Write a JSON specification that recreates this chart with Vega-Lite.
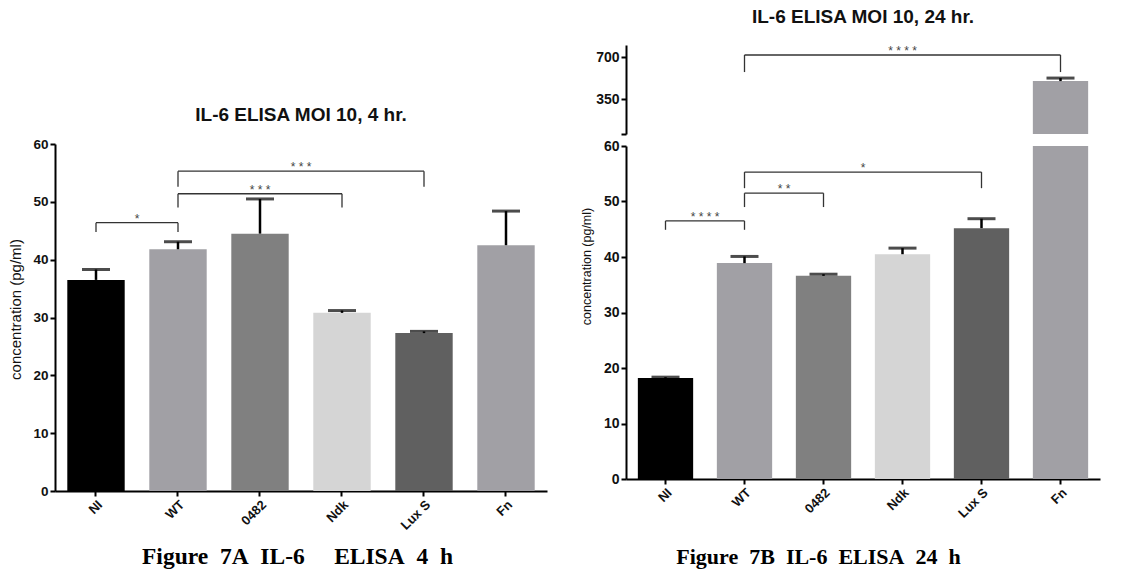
{
  "$schema": "https://vega.github.io/schema/vega-lite/v6.json",
  "background": "white",
  "padding": {"left": 8, "top": 7, "right": 5, "bottom": 5},
  "config": {
    "font": "Liberation Sans",
    "view": {"stroke": null},
    "axis": {"grid": false, "domainColor": "#000", "domainWidth": 2, "tickColor": "#000", "tickWidth": 2, "tickSize": 5, "labelFont": "Liberation Sans", "labelFontWeight": "bold", "labelFontSize": 13.5, "labelColor": "#111", "titleFont": "Liberation Sans", "titleFontWeight": "normal", "titleFontSize": 15, "titleColor": "#111", "labelPadding": 2},
    "title": {"font": "Liberation Sans", "fontWeight": "bold", "fontSize": 19, "color": "#111"}
  },
  "datasets": {
    "cats": [
      {"group": "NI", "order": 0},
      {"group": "WT", "order": 1},
      {"group": "0482", "order": 2},
      {"group": "Ndk", "order": 3},
      {"group": "Lux S", "order": 4},
      {"group": "Fn", "order": 5}
    ],
    "h4": [
      {"group": "NI", "mean": 36.5, "upper": 38.3},
      {"group": "WT", "mean": 41.8, "upper": 43.1},
      {"group": "0482", "mean": 44.5, "upper": 50.5},
      {"group": "Ndk", "mean": 30.8, "upper": 31.2},
      {"group": "Lux S", "mean": 27.3, "upper": 27.6},
      {"group": "Fn", "mean": 42.5, "upper": 48.4}
    ],
    "h24": [
      {"group": "NI", "mean": 18.2, "upper": 18.35},
      {"group": "WT", "mean": 38.9, "upper": 40.1},
      {"group": "0482", "mean": 36.6, "upper": 36.9},
      {"group": "Ndk", "mean": 40.5, "upper": 41.6},
      {"group": "Lux S", "mean": 45.2, "upper": 46.9},
      {"group": "Fn", "mean": 500, "upper": 525}
    ],
    "s4": [
      {"from": "NI", "to": "WT", "top": 46.4, "leg": 44.8, "label": "*"},
      {"from": "WT", "to": "Ndk", "top": 51.4, "leg": 49.0, "label": "* * *"},
      {"from": "WT", "to": "Lux S", "top": 55.3, "leg": 52.6, "label": "* * *"}
    ],
    "s24lo": [
      {"from": "NI", "to": "WT", "top": 46.5, "leg": 44.9, "label": "* * * *"},
      {"from": "WT", "to": "0482", "top": 51.5, "leg": 49.0, "label": "* *"},
      {"from": "WT", "to": "Lux S", "top": 55.3, "leg": 52.4, "label": "*"}
    ],
    "s24hi": [
      {"from": "WT", "to": "Fn", "top": 717, "leg": 575, "label": "* * * *"}
    ]
  },
  "spacing": 33,
  "hconcat": [
    {
      "spacing": 0,
      "vconcat": [
        {
          "width": 492, "height": 61,
          "data": {"values": [{}]},
          "mark": {"type": "text", "opacity": 0},
          "encoding": {}
        },
        {
          "width": 492, "height": 347,
          "title": {"text": "IL-6 ELISA MOI 10, 4 hr.", "offset": 12},
          "resolve": {"scale": {"x": "independent"}},
          "layer": [
            {
              "data": {"name": "h4"},
              "mark": {"type": "bar"},
              "encoding": {
                "x": {"field": "group", "type": "nominal", "sort": null,
                  "scale": {"domain": ["NI", "WT", "0482", "Ndk", "Lux S", "Fn"], "paddingInner": 0.3, "paddingOuter": 0.15},
                  "axis": {"title": "Figure\u00a0\u00a07A\u00a0\u00a0IL-6\u00a0\u00a0\u00a0\u00a0\u00a0ELISA\u00a0\u00a04\u00a0\u00a0h", "labelAngle": -45, "labelFontSize": 13, "titleFont": "Liberation Serif", "titleFontWeight": "bold", "titleFontSize": 23.5, "titlePadding": 12, "titleColor": "#000", "titleX": 242}},
                "y": {"field": "mean", "type": "quantitative",
                  "scale": {"domain": [0, 60], "nice": false},
                  "axis": {"title": "concentration (pg/ml)", "values": [0, 10, 20, 30, 40, 50, 60], "titlePadding": 9, "titleY": 165}},
                "color": {"field": "group", "type": "nominal",
                  "scale": {"domain": ["NI", "WT", "0482", "Ndk", "Lux S", "Fn"], "range": ["#000000", "#a1a0a5", "#808080", "#d5d5d5", "#606060", "#a1a0a5"]},
                  "legend": null}
              }
            },
            {
              "data": {"name": "h4"},
              "mark": {"type": "rule", "strokeWidth": 2.5, "color": "#000"},
              "encoding": {"x": {"field": "group", "type": "nominal", "sort": null, "scale": {"domain": ["NI", "WT", "0482", "Ndk", "Lux S", "Fn"], "paddingInner": 0.3, "paddingOuter": 0.15}, "axis": null}, "y": {"field": "mean", "type": "quantitative"}, "y2": {"field": "upper"}}
            },
            {
              "data": {"name": "h4"},
              "mark": {"type": "tick", "size": 28, "thickness": 3, "color": "#000"},
              "encoding": {"x": {"field": "group", "type": "nominal", "sort": null, "scale": {"domain": ["NI", "WT", "0482", "Ndk", "Lux S", "Fn"], "paddingInner": 0.3, "paddingOuter": 0.15}, "axis": null}, "y": {"field": "upper", "type": "quantitative"}}
            },
            {
              "data": {"name": "s4"},
              "layer": [
                {
                  "mark": {"type": "rule", "strokeWidth": 1.3, "color": "#333"},
                  "encoding": {"x": {"field": "from", "type": "nominal"}, "x2": {"field": "to"}, "y": {"field": "top", "type": "quantitative"}}
                },
                {
                  "mark": {"type": "rule", "strokeWidth": 1.3, "color": "#333"},
                  "encoding": {"x": {"field": "from", "type": "nominal"}, "y": {"field": "top", "type": "quantitative"}, "y2": {"field": "leg"}}
                },
                {
                  "mark": {"type": "rule", "strokeWidth": 1.3, "color": "#333"},
                  "encoding": {"x": {"field": "to", "type": "nominal"}, "y": {"field": "top", "type": "quantitative"}, "y2": {"field": "leg"}}
                }
              ],
              "encoding": {"x": {"field": "from", "type": "nominal", "sort": null, "scale": {"domain": ["NI", "WT", "0482", "Ndk", "Lux S", "Fn"], "paddingInner": 0.3, "paddingOuter": 0.15}, "axis": null}}
            },
            {
              "data": {"name": "s4"},
              "transform": [
                {"fold": ["from", "to"], "as": ["end", "cat"]},
                {"lookup": "cat", "from": {"data": {"name": "cats"}, "key": "group", "fields": ["order"]}},
                {"aggregate": [{"op": "mean", "field": "order", "as": "mid"}], "groupby": ["label", "top"]}
              ],
              "mark": {"type": "text", "fontSize": 12, "color": "#444", "baseline": "middle", "dy": -4},
              "encoding": {
                "x": {"field": "mid", "type": "quantitative", "scale": {"domain": [-0.5, 5.5], "nice": false, "zero": false}, "axis": null},
                "y": {"field": "top", "type": "quantitative"},
                "text": {"field": "label"}
              }
            }
          ]
        }
      ]
    },
    {
      "spacing": 4,
      "vconcat": [
        {
          "width": 474, "height": 89,
          "title": {"text": "IL-6 ELISA MOI 10, 24 hr.", "offset": 18},
          "resolve": {"scale": {"x": "independent"}},
          "layer": [
            {
              "data": {"name": "h24"},
              "transform": [{"filter": "datum.group == 'Fn'"}],
              "mark": {"type": "bar", "clip": true},
              "encoding": {
                "x": {"field": "group", "type": "nominal", "sort": null,
                  "scale": {"domain": ["NI", "WT", "0482", "Ndk", "Lux S", "Fn"], "paddingInner": 0.3, "paddingOuter": 0.15},
                  "axis": null},
                "y": {"field": "mean", "type": "quantitative",
                  "scale": {"domain": [60, 800], "nice": false, "zero": false},
                  "axis": {"title": null, "values": [60, 350, 700], "labelFontSize": 14, "labelExpr": "datum.value == 60 ? '' : datum.label"}},
                "color": {"field": "group", "type": "nominal",
                  "scale": {"domain": ["NI", "WT", "0482", "Ndk", "Lux S", "Fn"], "range": ["#000000", "#a1a0a5", "#808080", "#d5d5d5", "#606060", "#a1a0a5"]},
                  "legend": null}
              }
            },
            {
              "data": {"name": "h24"},
              "transform": [{"filter": "datum.group == 'Fn'"}],
              "layer": [
                {
                  "mark": {"type": "rule", "strokeWidth": 2.5, "color": "#000"},
                  "encoding": {"y": {"field": "mean", "type": "quantitative"}, "y2": {"field": "upper"}}
                },
                {
                  "mark": {"type": "tick", "size": 28, "thickness": 3, "color": "#000"},
                  "encoding": {"y": {"field": "upper", "type": "quantitative"}}
                }
              ],
              "encoding": {"x": {"field": "group", "type": "nominal", "sort": null, "scale": {"domain": ["NI", "WT", "0482", "Ndk", "Lux S", "Fn"], "paddingInner": 0.3, "paddingOuter": 0.15}, "axis": null}}
            },
            {
              "data": {"name": "s24hi"},
              "layer": [
                {
                  "mark": {"type": "rule", "strokeWidth": 1.3, "color": "#333"},
                  "encoding": {"x": {"field": "from", "type": "nominal"}, "x2": {"field": "to"}, "y": {"field": "top", "type": "quantitative"}}
                },
                {
                  "mark": {"type": "rule", "strokeWidth": 1.3, "color": "#333"},
                  "encoding": {"x": {"field": "from", "type": "nominal"}, "y": {"field": "top", "type": "quantitative"}, "y2": {"field": "leg"}}
                },
                {
                  "mark": {"type": "rule", "strokeWidth": 1.3, "color": "#333"},
                  "encoding": {"x": {"field": "to", "type": "nominal"}, "y": {"field": "top", "type": "quantitative"}, "y2": {"field": "leg"}}
                }
              ],
              "encoding": {"x": {"field": "from", "type": "nominal", "sort": null, "scale": {"domain": ["NI", "WT", "0482", "Ndk", "Lux S", "Fn"], "paddingInner": 0.3, "paddingOuter": 0.15}, "axis": null}}
            },
            {
              "data": {"name": "s24hi"},
              "transform": [
                {"fold": ["from", "to"], "as": ["end", "cat"]},
                {"lookup": "cat", "from": {"data": {"name": "cats"}, "key": "group", "fields": ["order"]}},
                {"aggregate": [{"op": "mean", "field": "order", "as": "mid"}], "groupby": ["label", "top"]}
              ],
              "mark": {"type": "text", "fontSize": 12, "color": "#444", "baseline": "middle", "dy": -4},
              "encoding": {
                "x": {"field": "mid", "type": "quantitative", "scale": {"domain": [-0.5, 5.5], "nice": false, "zero": false}, "axis": null},
                "y": {"field": "top", "type": "quantitative"},
                "text": {"field": "label"}
              }
            }
          ]
        },
        {
          "width": 474, "height": 333,
          "resolve": {"scale": {"x": "independent"}},
          "layer": [
            {
              "data": {"name": "h24"},
              "mark": {"type": "bar", "clip": true},
              "encoding": {
                "x": {"field": "group", "type": "nominal", "sort": null,
                  "scale": {"domain": ["NI", "WT", "0482", "Ndk", "Lux S", "Fn"], "paddingInner": 0.3, "paddingOuter": 0.15},
                  "axis": {"title": "Figure\u00a0\u00a07B\u00a0\u00a0IL-6\u00a0\u00a0ELISA\u00a0\u00a024\u00a0\u00a0h", "labelAngle": -45, "labelFontSize": 13, "titleFont": "Liberation Serif", "titleFontWeight": "bold", "titleFontSize": 22, "titlePadding": 26, "titleColor": "#000", "titleX": 192}},
                "y": {"field": "mean", "type": "quantitative",
                  "scale": {"domain": [0, 60], "nice": false},
                  "axis": {"title": "concentration (pg/ml)", "values": [0, 10, 20, 30, 40, 50, 60], "labelFontSize": 14, "titleFontSize": 12.5, "titlePadding": 10, "titleY": 120}},
                "color": {"field": "group", "type": "nominal",
                  "scale": {"domain": ["NI", "WT", "0482", "Ndk", "Lux S", "Fn"], "range": ["#000000", "#a1a0a5", "#808080", "#d5d5d5", "#606060", "#a1a0a5"]},
                  "legend": null}
              }
            },
            {
              "data": {"name": "h24"},
              "layer": [
                {
                  "mark": {"type": "rule", "strokeWidth": 2.5, "color": "#000", "clip": true},
                  "encoding": {"y": {"field": "mean", "type": "quantitative"}, "y2": {"field": "upper"}}
                },
                {
                  "mark": {"type": "tick", "size": 28, "thickness": 3, "color": "#000", "clip": true},
                  "encoding": {"y": {"field": "upper", "type": "quantitative"}}
                }
              ],
              "encoding": {"x": {"field": "group", "type": "nominal", "sort": null, "scale": {"domain": ["NI", "WT", "0482", "Ndk", "Lux S", "Fn"], "paddingInner": 0.3, "paddingOuter": 0.15}, "axis": null}}
            },
            {
              "data": {"name": "s24lo"},
              "layer": [
                {
                  "mark": {"type": "rule", "strokeWidth": 1.3, "color": "#333"},
                  "encoding": {"x": {"field": "from", "type": "nominal"}, "x2": {"field": "to"}, "y": {"field": "top", "type": "quantitative"}}
                },
                {
                  "mark": {"type": "rule", "strokeWidth": 1.3, "color": "#333"},
                  "encoding": {"x": {"field": "from", "type": "nominal"}, "y": {"field": "top", "type": "quantitative"}, "y2": {"field": "leg"}}
                },
                {
                  "mark": {"type": "rule", "strokeWidth": 1.3, "color": "#333"},
                  "encoding": {"x": {"field": "to", "type": "nominal"}, "y": {"field": "top", "type": "quantitative"}, "y2": {"field": "leg"}}
                }
              ],
              "encoding": {"x": {"field": "from", "type": "nominal", "sort": null, "scale": {"domain": ["NI", "WT", "0482", "Ndk", "Lux S", "Fn"], "paddingInner": 0.3, "paddingOuter": 0.15}, "axis": null}}
            },
            {
              "data": {"name": "s24lo"},
              "transform": [
                {"fold": ["from", "to"], "as": ["end", "cat"]},
                {"lookup": "cat", "from": {"data": {"name": "cats"}, "key": "group", "fields": ["order"]}},
                {"aggregate": [{"op": "mean", "field": "order", "as": "mid"}], "groupby": ["label", "top"]}
              ],
              "mark": {"type": "text", "fontSize": 12, "color": "#444", "baseline": "middle", "dy": -4},
              "encoding": {
                "x": {"field": "mid", "type": "quantitative", "scale": {"domain": [-0.5, 5.5], "nice": false, "zero": false}, "axis": null},
                "y": {"field": "top", "type": "quantitative"},
                "text": {"field": "label"}
              }
            }
          ]
        }
      ]
    }
  ]
}
